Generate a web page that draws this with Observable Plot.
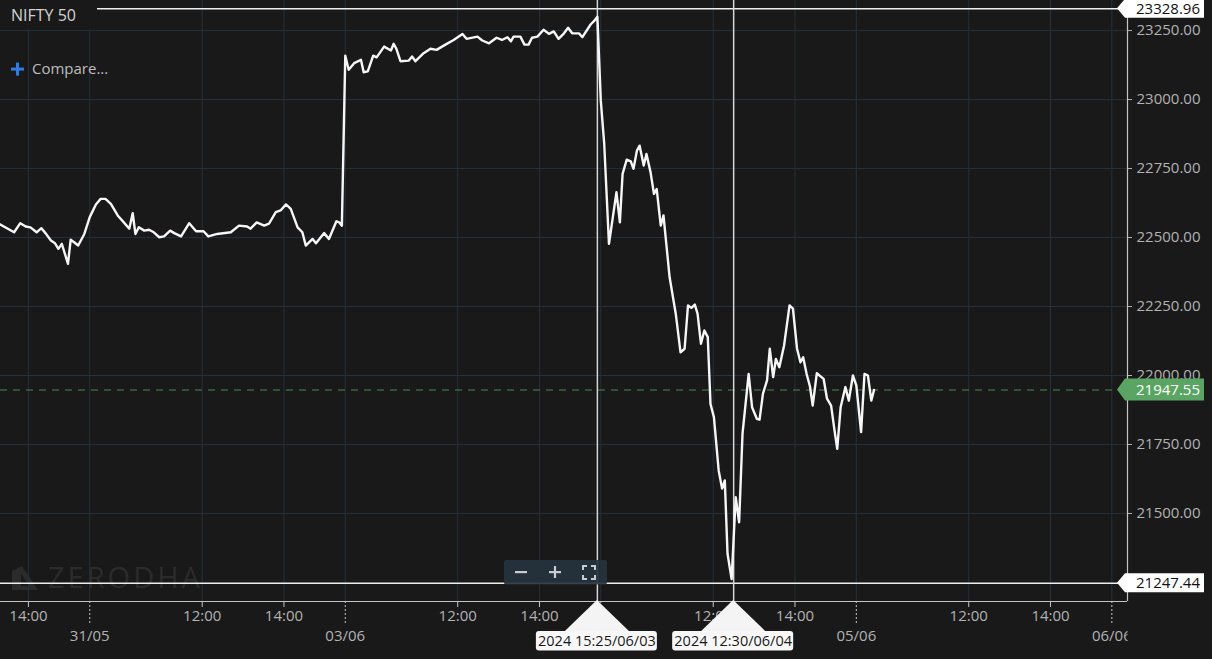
<!DOCTYPE html>
<html><head><meta charset="utf-8">
<script src="https://cdn.jsdelivr.net/npm/d3@7"></script>
<script src="https://cdn.jsdelivr.net/npm/@observablehq/plot@0.6"></script>
<style>
html,body{margin:0;padding:0;background:#191919;}
#chart{width:1212px;height:659px;overflow:hidden;}
svg{display:block;}
</style></head><body><div id="chart"></div>
<script>
// ---------- data: [time, close] per session ----------
const may30 = [["13:15",22552],["13:39",22519],["13:48",22552],["13:56",22540],["14:03",22537],["14:12",22519],["14:19",22534],["14:25",22516],["14:33",22489],["14:39",22479],["14:44",22459],["14:49",22477],["14:52",22453],["14:58",22405],["15:02",22492],["15:07",22483],["15:13",22471],["15:22",22513]];
const may31 = [["09:15",22574],["09:24",22620],["09:31",22640],["09:38",22640],["09:46",22622],["09:56",22580],["10:05",22555],["10:13",22532],["10:18",22588],["10:22",22513],["10:27",22537],["10:35",22525],["10:42",22528],["10:49",22519],["10:57",22501],["11:04",22504],["11:13",22525],["11:19",22516],["11:29",22504],["11:41",22552],["11:51",22523],["12:02",22523],["12:09",22504],["12:22",22513],["12:42",22519],["12:54",22543],["13:06",22540],["13:11",22532],["13:20",22555],["13:31",22543],["13:38",22550],["13:48",22592],["13:55",22598],["14:03",22620],["14:10",22604],["14:20",22537],["14:27",22519],["14:32",22471],["14:42",22495],["14:47",22479],["14:59",22516],["15:06",22495],["15:17",22559],["15:21",22555],["15:25",22543]];
const jun03 = [["09:15",23159],["09:20",23108],["09:28",23132],["09:38",23144],["09:42",23099],["09:48",23102],["09:56",23159],["10:01",23153],["10:12",23192],["10:22",23178],["10:26",23202],["10:30",23184],["10:36",23139],["10:48",23141],["10:53",23156],["10:58",23139],["11:10",23168],["11:20",23184],["11:29",23180],["11:42",23199],["11:54",23216],["12:07",23238],["12:13",23220],["12:29",23228],["12:36",23214],["12:46",23204],["12:57",23224],["13:05",23216],["13:13",23226],["13:18",23211],["13:22",23228],["13:32",23228],["13:38",23199],["13:44",23199],["13:49",23224],["13:57",23228],["14:06",23253],["14:14",23238],["14:21",23247],["14:28",23220],["14:36",23240],["14:42",23260],["14:48",23240],["14:58",23240],["15:03",23226],["15:15",23272],["15:20",23284],["15:25",23300]];
const jun04 = [["09:15",22996],["09:20",22840],["09:27",22477],["09:32",22562],["09:38",22664],["09:43",22555],["09:47",22731],["09:53",22782],["09:59",22776],["10:03",22749],["10:08",22815],["10:12",22833],["10:18",22761],["10:22",22803],["10:28",22737],["10:33",22658],["10:37",22676],["10:43",22543],["10:47",22580],["10:56",22356],["11:05",22224],["11:12",22084],["11:18",22097],["11:23",22254],["11:28",22245],["11:33",22257],["11:37",22224],["11:42",22115],["11:47",22163],["11:52",22139],["11:56",21897],["12:01",21849],["12:08",21656],["12:13",21590],["12:17",21620],["12:21",21354],["12:27",21262],["12:33",21559],["12:38",21468],["12:43",21789],["12:52",22006],["12:57",21885],["13:04",21843],["13:08",21840],["13:13",21934],["13:19",21982],["13:23",22097],["13:28",21994],["13:32",22060],["13:37",22030],["13:44",22109],["13:52",22254],["13:57",22242],["14:03",22097],["14:08",22048],["14:12",22066],["14:17",22006],["14:22",21960],["14:26",21891],["14:32",22008],["14:42",21988],["14:47",21916],["14:53",21891],["14:58",21801],["15:02",21734],["15:07",21885],["15:14",21958],["15:19",21909],["15:25",22000]];
const jun05 = [["09:15",21964],["09:22",21795],["09:27",22006],["09:32",22000],["09:37",21909],["09:41",21947.55]];

const sessionDates = ["30/05","31/05","03/06","04/06","05/06","06/06"];
const sessions = [["30/05",may30],["31/05",may31],["03/06",jun03],["04/06",jun04],["05/06",jun05]];

const yTicks = [21500,21750,22000,22250,22500,22750,23000,23250];
const timeTicks = [["30/05","14:00"],["31/05","12:00"],["31/05","14:00"],["03/06","12:00"],["03/06","14:00"],["04/06","12:00"],["04/06","14:00"],["05/06","12:00"],["05/06","14:00"]];
const dayTicks = ["31/05","03/06","04/06","05/06","06/06"];
const dayLabels = ["31/05","03/06","05/06","06/06"]; // 04/06 sits under the crosshair marker
const viewWindow = [["30/05","13:19"],["06/06","09:38"]];
const yDomain = [21181, 23359];

const rangeHigh = 23328.96, rangeLow = 21247.44, lastPrice = 21947.55;
const crosshairs = [["03/06","15:25","2024 15:25/06/03"],["04/06","12:30","2024 12:30/06/04"]];
const symbolName = "NIFTY 50";

// ---------- helpers ----------
const MIN_PER_DAY = 375; // 09:15 - 15:30
function tm(date, time) {
  const d = sessionDates.indexOf(date);
  const [h, m] = time.split(":").map(Number);
  return d * MIN_PER_DAY + (h * 60 + m) - (9 * 60 + 15);
}
const rows = sessions.flatMap(([date, pts]) => pts.map(([t, v]) => ({T: tm(date, t), close: v})));
const xDomain = viewWindow.map(([d, t]) => tm(d, t));
const timeTickData = timeTicks.map(([d, t]) => ({T: tm(d, t), label: t}));
const dayTickData = dayTicks.map(d => ({T: tm(d, "09:15"), label: d}));
const dayLabelData = dayLabels.map(d => ({T: tm(d, "09:15"), label: d}));
const crossData = crosshairs.map(([d, t, label]) => ({T: tm(d, t), label}));

const BG = "#191919", GRID = "#25303a", AXIS = "#c4c4c4", LABEL = "#b2b2b2";
const FONT = "'Open Sans', sans-serif";

const plot = Plot.plot({
  width: 1212, height: 659,
  marginLeft: 0, marginRight: 85, marginTop: 0, marginBottom: 58,
  style: {background: BG, color: LABEL, fontFamily: FONT, fontSize: "15px"},
  x: {type: "linear", domain: xDomain, label: null, axis: null},
  y: {domain: yDomain, label: null, axis: null},
  marks: [
    Plot.ruleY(yTicks, {stroke: GRID, strokeWidth: 1}),
    Plot.ruleX([...timeTickData, ...dayTickData], {x: "T", stroke: GRID, strokeWidth: 1}),
    Plot.ruleY([lastPrice], {stroke: "#4f8552", strokeWidth: 1.2, strokeDasharray: "7,6"}),
    Plot.ruleY([rangeHigh, rangeLow], {stroke: "#eeeeee", strokeWidth: 1.5}),
    Plot.ruleX(crossData, {x: "T", stroke: "#d6d6d6", strokeWidth: 1.5}),
    Plot.line(rows, {x: "T", y: "close", stroke: "#f6f6f6", strokeWidth: 2.4, strokeLinejoin: "round", clip: true}),
    Plot.ruleX([xDomain[1]], {stroke: AXIS, strokeWidth: 1.2}),
    Plot.ruleY([yDomain[0]], {stroke: AXIS, strokeWidth: 1.2}),
    Plot.axisY({anchor: "right", ticks: yTicks, tickFormat: d => d.toFixed(2), tickSize: 4, tickPadding: 5, label: null, color: LABEL, fontSize: 15}),
    Plot.axisX({ticks: timeTickData.map(d => d.T), tickSize: 6, tickFormat: () => "", label: null, color: AXIS}),
    Plot.axisX({ticks: dayTickData.map(d => d.T), tickSize: 24, tickFormat: () => "", label: null, color: AXIS, strokeDasharray: "2,2"}),
    Plot.text(timeTickData, {x: "T", text: "label", frameAnchor: "bottom", dy: 19, fill: LABEL, fontSize: 15}),
    Plot.text(dayLabelData, {x: "T", text: "label", frameAnchor: "bottom", dy: 39, fill: LABEL, fontSize: 15})
  ]
});

document.getElementById("chart").appendChild(plot);

// ---------- overlays positioned through the plot's scales ----------
const svg = d3.select(plot);
const sx = plot.scale("x"), sy = plot.scale("y");
const frameRight = sx.apply(xDomain[1]);
const frameBottom = sy.apply(yDomain[0]);

// clip the day labels at the price axis
svg.append("defs").append("clipPath").attr("id", "xclip")
  .append("rect").attr("x", 0).attr("y", 0).attr("width", frameRight).attr("height", 659);
svg.selectAll("text").filter(function() { return this.textContent === dayLabels[dayLabels.length - 1]; })
  .each(function() { d3.select(this.parentNode).attr("clip-path", "url(#xclip)"); });

// watermark (behind everything but the background)
const wm = svg.insert("g", ":first-child").attr("fill", "#2b2b2b").attr("text-anchor", "start");
wm.append("path").attr("d", "M12,590 L12,571 L22,566 L38,590 Z M21,574 L29,586 L21,586 Z").attr("fill-rule", "evenodd");
wm.append("text").attr("x", 48).attr("y", 588).attr("font-size", 29).attr("letter-spacing", "3px")
  .attr("font-family", FONT).text("ZERODHA");
svg.insert("rect", ":first-child").attr("width", 1212).attr("height", 659).attr("fill", BG);

const ov = svg.append("g").attr("font-family", FONT).attr("text-anchor", "start");

// title box
ov.append("rect").attr("x", 0).attr("y", 0).attr("width", 97).attr("height", 29.5).attr("fill", BG);
ov.append("text").attr("x", 11).attr("y", 15).attr("dy", "0.36em").attr("font-size", 16).attr("fill", "#d2d2d2").text(symbolName);
// compare button: blue plus + label
ov.append("rect").attr("x", 11).attr("y", 67.6).attr("width", 13).attr("height", 3).attr("fill", "#2f7ddf");
ov.append("rect").attr("x", 16).attr("y", 62.6).attr("width", 3).attr("height", 13).attr("fill", "#2f7ddf");
ov.append("text").attr("x", 32).attr("y", 69).attr("dy", "0.36em").attr("font-size", 15).attr("fill", "#bdbdbd").text("Compare...");

// price flags
function flag(v, fill, textFill, h) {
  const cy = sy.apply(v);
  const x0 = frameRight - 10, x1 = frameRight - 2, x2 = frameRight + 77;
  ov.append("path").attr("d", `M${x0},${cy}L${x1},${cy - h}H${x2}V${cy + h}H${x1}Z`).attr("fill", fill);
  ov.append("text").attr("x", frameRight + 9).attr("y", cy).attr("dy", "0.35em").attr("font-size", 15)
    .attr("fill", textFill).text(v.toFixed(2));
}
flag(rangeHigh, "#ffffff", "#111111", 9.5);
flag(rangeLow, "#ffffff", "#111111", 9.5);
flag(lastPrice, "#5aa563", "#ffffff", 11);

// crosshair markers
for (const c of crossData) {
  const cx = sx.apply(c.T);
  ov.append("path").attr("d", `M${cx},${frameBottom - 1}L${cx - 32},${frameBottom + 30}H${cx + 32}Z`).attr("fill", "#f4f4f4");
  ov.append("rect").attr("x", cx - 61).attr("y", frameBottom + 30).attr("width", 121).attr("height", 19.5).attr("rx", 3).attr("fill", "#f7f7f7");
  ov.append("text").attr("x", cx).attr("y", frameBottom + 40).attr("dy", "0.35em").attr("text-anchor", "middle")
    .attr("font-size", 14.5).attr("fill", "#1a1a1a").text(c.label);
}

// zoom control
const zc = ov.append("g");
zc.append("rect").attr("x", 504).attr("y", 560).attr("width", 103).attr("height", 24.5).attr("rx", 2).attr("fill", "#25323d").attr("fill-opacity", 0.92);
zc.append("rect").attr("x", 515).attr("y", 571).attr("width", 12).attr("height", 2.2).attr("fill", "#c6ccd2");
zc.append("rect").attr("x", 549).attr("y", 571).attr("width", 12).attr("height", 2.2).attr("fill", "#c6ccd2");
zc.append("rect").attr("x", 553.9).attr("y", 566).attr("width", 2.2).attr("height", 12).attr("fill", "#c6ccd2");
zc.append("path").attr("d", "M583,570V566H587 M591,566H595V570 M595,575V579H591 M587,579H583V575")
  .attr("fill", "none").attr("stroke", "#c6ccd2").attr("stroke-width", 2);
</script></body></html>
